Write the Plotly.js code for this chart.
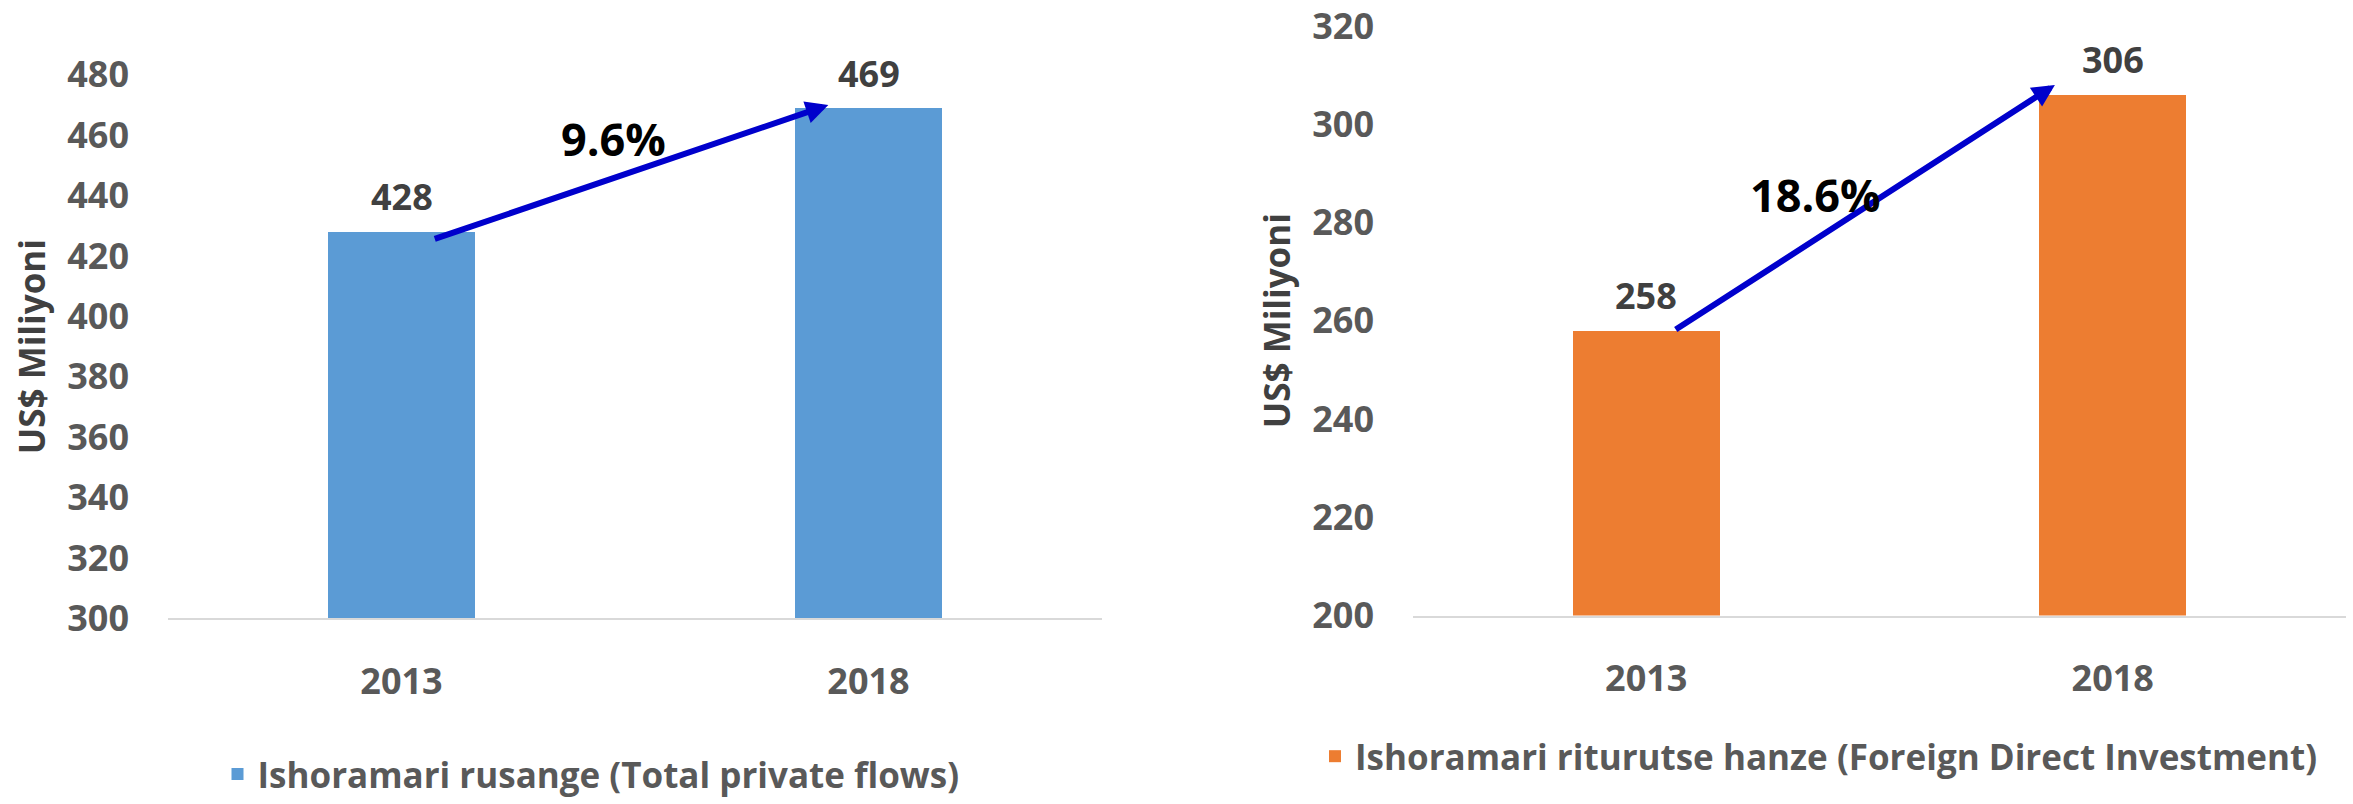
<!DOCTYPE html>
<html>
<head>
<meta charset="utf-8">
<script src="https://cdn.plot.ly/plotly-3.0.1.min.js"></script>
<style>html,body{margin:0;padding:0;background:#fff;}#chart{width:2353px;height:804px;}</style>
</head>
<body>
<div id="chart"></div>
<script>
// ---- data ----
const years = ["2013", "2018"];
const totalPrivateFlows = [428, 469];
const foreignDirectInvestment = [258, 306];
const seriesNames = [
  "Ishoramari rusange (Total private flows)",
  "Ishoramari riturutse hanze (Foreign Direct Investment)"
];
const growthLabels = ["9.6%", "18.6%"];
const yTitle = "US$ Miliyoni";
const leftTicks = [300, 320, 340, 360, 380, 400, 420, 440, 460, 480];
const rightTicks = [200, 220, 240, 260, 280, 300, 320];

// ---- styling ----
const FONT = "Open Sans, Noto Sans, DejaVu Sans, sans-serif";
const BLUE = "#5B9BD5", ORANGE = "#ED7D31", ARROW = "#0000CC";
const tickFont = {family: FONT, size: 36, color: "#595959", weight: 700};
const valFont = {family: FONT, size: 36, color: "#404040", weight: 700};
const pctFont = {family: FONT, size: 45, color: "#000000", weight: 700};
const legFont = {family: FONT, size: 35, color: "#595959", weight: 700};

const traces = [
  {type: "bar", x: years, y: totalPrivateFlows, name: seriesNames[0],
   marker: {color: BLUE}, width: 0.315, xaxis: "x", yaxis: "y", legend: "legend",
   hoverinfo: "x+y"},
  {type: "bar", x: years, y: foreignDirectInvestment, name: seriesNames[1],
   marker: {color: ORANGE}, width: 0.315, xaxis: "x2", yaxis: "y2", legend: "legend2",
   hoverinfo: "x+y"}
];

function valueAnn(xref, yref, ys) {
  return ys.map((v, i) => ({
    xref: xref, yref: yref, x: i, y: v, text: String(v),
    showarrow: false, yanchor: "middle", yshift: 35, font: valFont
  }));
}

const annotations = [
  ...valueAnn("x", "y", totalPrivateFlows),
  ...valueAnn("x2", "y2", foreignDirectInvestment),
  // growth arrows from first bar top to second bar top
  {xref: "x", yref: "y", axref: "x", ayref: "y",
   x: 1 - 0.086, y: totalPrivateFlows[1] + 1,
   ax: 0 + 0.068, ay: totalPrivateFlows[0] - 2.5,
   showarrow: true, arrowhead: 2, arrowsize: 0.75, arrowwidth: 6, arrowcolor: ARROW, text: ""},
  {xref: "x2", yref: "y2", axref: "x2", ayref: "y2",
   x: 1 - 0.124, y: foreignDirectInvestment[1] + 2,
   ax: 0 + 0.06, ay: foreignDirectInvestment[0],
   showarrow: true, arrowhead: 2, arrowsize: 0.75, arrowwidth: 6, arrowcolor: ARROW, text: ""},
  {xref: "x", yref: "y", x: 0.454, y: 459, text: growthLabels[0], showarrow: false, font: pctFont},
  {xref: "x2", yref: "y2", x: 0.362, y: 285.7, text: growthLabels[1], showarrow: false, font: pctFont}
];

const xaxisBase = {
  type: "category", range: [-0.5, 1.5], showgrid: false, zeroline: false,
  showline: true, linecolor: "#D9D9D9", linewidth: 2, ticks: "",
  tickfont: tickFont, ticklabelstandoff: 30, fixedrange: true
};
const yaxisBase = {
  showgrid: false, zeroline: false, showline: false, ticks: "",
  tickfont: tickFont, ticklabelstandoff: 38, ticklabeloverflow: "allow", fixedrange: true,
  title: {text: yTitle, font: {family: FONT, size: 35, color: "#404040", weight: 700}, standoff: 10}
};

const layout = {
  width: 2353, height: 804,
  margin: {l: 0, r: 0, t: 0, b: 0},
  paper_bgcolor: "#ffffff", plot_bgcolor: "#ffffff",
  showlegend: true,
  bargap: 0,
  xaxis: Object.assign({}, xaxisBase, {domain: [168/2353, 1102/2353], anchor: "y"}),
  yaxis: Object.assign({}, yaxisBase, {domain: [(804-625.5)/804, (804-75.5)/804], range: [300, 480.05],
    tickvals: leftTicks, anchor: "x"}),
  xaxis2: Object.assign({}, xaxisBase, {domain: [1413/2353, 2346/2353], anchor: "y2"}),
  yaxis2: Object.assign({}, yaxisBase, {domain: [(804-622.5)/804, (804-26)/804], range: [200, 320.05],
    tickvals: rightTicks, anchor: "x2"}),
  legend: {x: 591/2353, xanchor: "center", y: 1 - 783/804, yanchor: "middle", orientation: "h",
    font: legFont, bgcolor: "rgba(0,0,0,0)"},
  legend2: {x: 1819/2353, xanchor: "center", y: 1 - 765/804, yanchor: "middle", orientation: "h",
    font: legFont, bgcolor: "rgba(0,0,0,0)"},
  annotations: annotations
};

Plotly.newPlot("chart", traces, layout, {displayModeBar: false, staticPlot: true});
</script>
</body>
</html>
